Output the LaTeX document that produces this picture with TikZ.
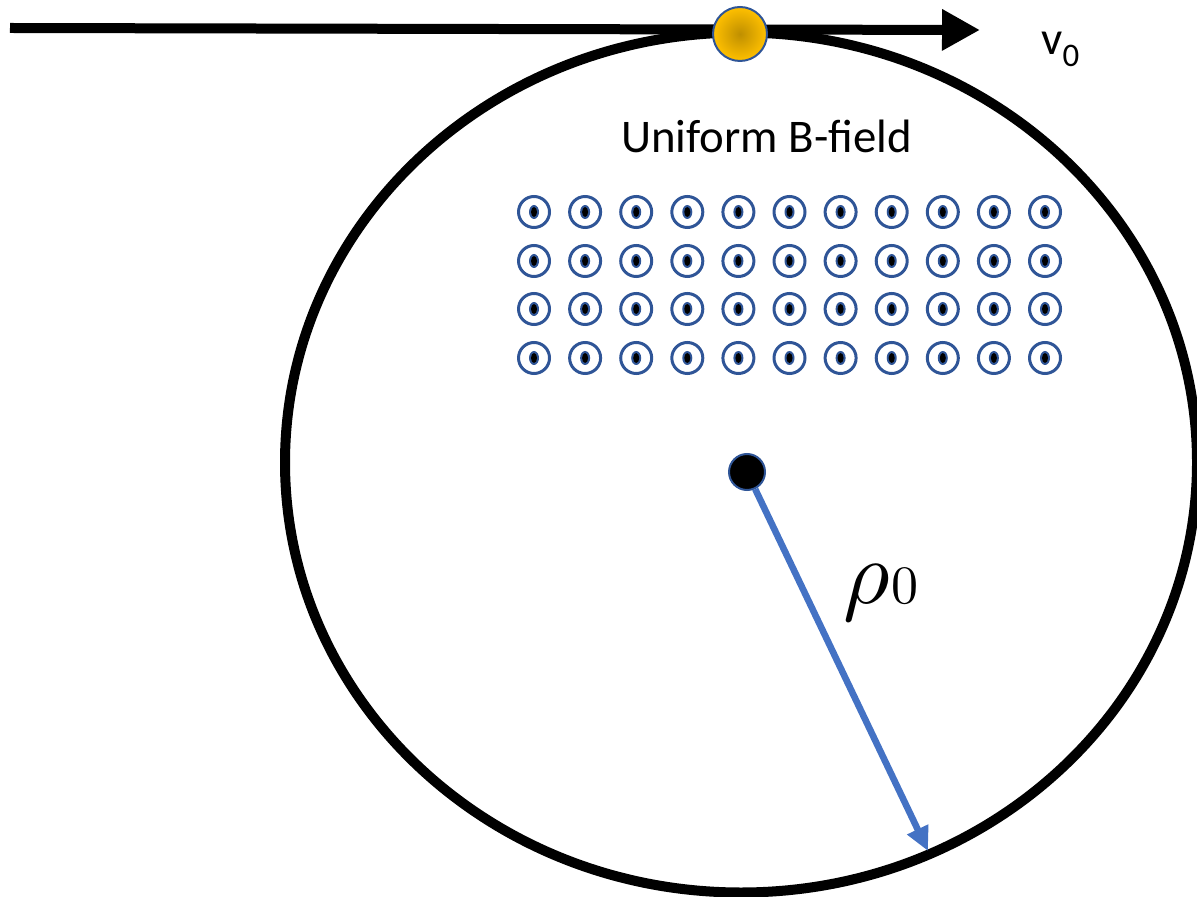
\documentclass[tikz,border=0pt]{standalone}
\usepackage{fontspec}
\setmainfont{Carlito}
\usepackage{unicode-math}
\setmathfont{Latin Modern Math}
\usetikzlibrary{arrows.meta}
\definecolor{dkblue}{HTML}{2F5597}
\definecolor{medblue}{HTML}{4472C4}
\definecolor{gold}{HTML}{FFC000}
\definecolor{dkgold}{HTML}{BF8F00}
\tikzset{
  fieldring/.style={draw=dkblue, line width=1.5pt, circle, minimum size=15.5pt, inner sep=0pt},
  orbit/.style={draw=black, line width=5pt},
  pathline/.style={draw=black, line width=5pt, -{Triangle[length=19pt,width=19.5pt]}},
  radius arrow/.style={draw=medblue, line width=3.3pt, -{Triangle[length=12pt,width=11pt]}},
}
\begin{document}
\begin{tikzpicture}[x=0.5pt,y=-0.5pt]
\useasboundingbox (0,0) rectangle (1197,897);
% orbit
\draw[orbit] (741,462.5) ellipse [x radius=456, y radius=430];
% incoming straight path
\coordinate (start) at (10,28);
\coordinate (tipend) at (980,30);
\draw[pathline] (start) -- (tipend);
% particle
\node[circle, minimum size=27pt, inner sep=0pt, draw=dkblue, line width=1pt,
      inner color=dkgold, outer color=gold] (particle) at (740,34) {};
% label v0
\node[anchor=base west, inner sep=0pt, font=\fontsize{23.5}{28}\selectfont] (v0) at (1041,55) {v\textsubscript{0}};
% B-field label
\node[anchor=base, inner sep=0pt, font=\fontsize{23.4}{28}\selectfont] (blabel) at (766.5,153) {Uniform B-field};
% field dots
\foreach \r [count=\ri] in {212,261,309,358}{
  \foreach \c in {0,...,10}{
    \node[fieldring] (f\ri-\c) at ({534+51.1*\c},\r) {};
    \fill[dkblue] ({534+51.1*\c},\r) ellipse [x radius=5, y radius=7];
    \fill[black] ({534+51.1*\c},\r) ellipse [x radius=3, y radius=5];
  }
}
% center
\node[circle, minimum size=18pt, inner sep=0pt, fill=black, draw=dkblue, line width=1pt] (center) at (747,472) {};
\coordinate (rimpt) at (928,851);
\draw[radius arrow] (center) -- (rimpt);
% rho label
\node[anchor=base west, inner sep=0pt] (rho) at (843,603) {\fontsize{45}{50}\selectfont$\mitrho$\fontsize{27}{30}\selectfont$0$};
\end{tikzpicture}
\end{document}
